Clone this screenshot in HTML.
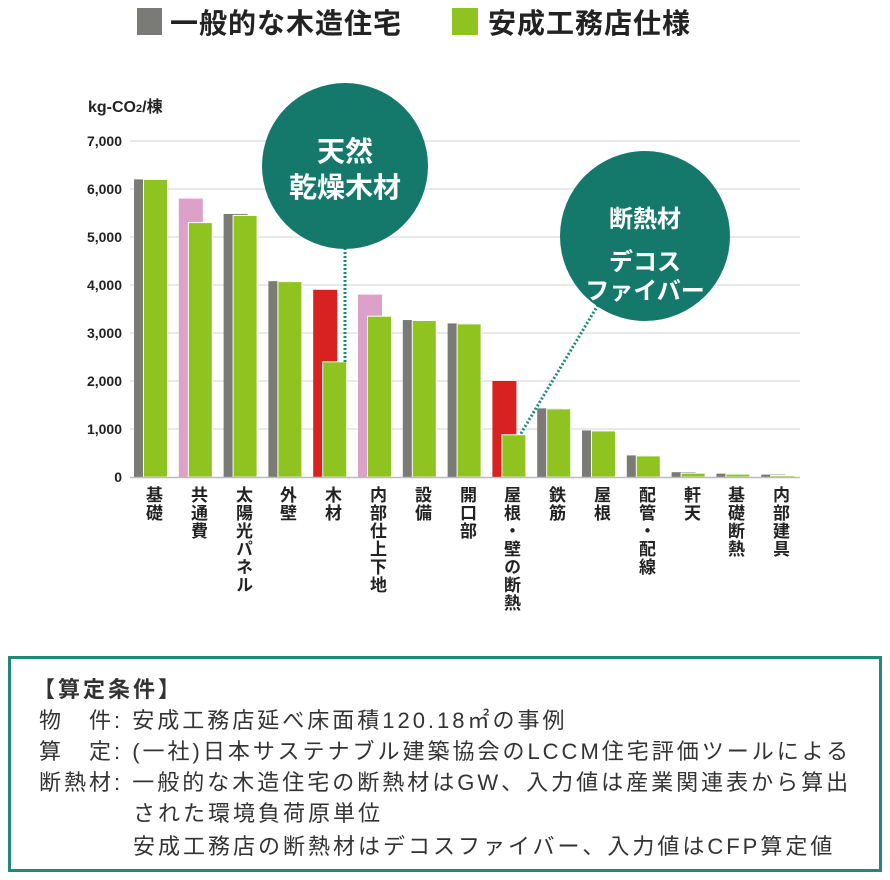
<!DOCTYPE html>
<html><head><meta charset="utf-8"><style>
body{margin:0;width:890px;height:880px;background:#fff;font-family:"Liberation Sans","Noto Sans CJK JP",sans-serif;position:relative;overflow:hidden;color:#222}
.a{position:absolute}
.lab{position:absolute;top:486px;writing-mode:vertical-rl;font-weight:bold;font-size:17px;letter-spacing:1px;color:#222;width:22px;line-height:22px}
.box{position:absolute;left:8px;top:656px;width:868px;height:210px;border:3px solid #1f8a78;}
.box div{position:absolute;font-size:22px;letter-spacing:3px;color:#333;white-space:nowrap}
</style></head><body>
<div class="a" style="left:137px;top:8px;width:25px;height:27px;background:#7a7a76"></div>
<div class="a" style="left:170px;top:2px;font-size:28px;font-weight:bold;letter-spacing:1px">一般的な木造住宅</div>
<div class="a" style="left:452px;top:8px;width:26px;height:27px;background:#8fc31f"></div>
<div class="a" style="left:488px;top:2px;font-size:28px;font-weight:bold;letter-spacing:1px">安成工務店仕様</div>
<div class="a" style="left:88px;top:93px;font-size:16px;font-weight:bold">kg-CO<span style="font-size:11px">2</span>/棟</div>
<svg class="a" style="left:0;top:0" width="890" height="650">
<g stroke="#e2e2e2" stroke-width="1.5">
<line x1="130" x2="800" y1="141" y2="141"/><line x1="130" x2="800" y1="189" y2="189"/><line x1="130" x2="800" y1="237" y2="237"/><line x1="130" x2="800" y1="285" y2="285"/><line x1="130" x2="800" y1="333" y2="333"/><line x1="130" x2="800" y1="381" y2="381"/><line x1="130" x2="800" y1="429" y2="429"/>
</g>
<g font-size="14" font-weight="bold" text-anchor="end" fill="#222" font-family="Liberation Sans,sans-serif">
<text x="122" y="146">7,000</text><text x="122" y="194">6,000</text><text x="122" y="242">5,000</text><text x="122" y="290">4,000</text><text x="122" y="338">3,000</text><text x="122" y="386">2,000</text><text x="122" y="434">1,000</text><text x="122" y="482">0</text>
</g>
<g id="bars" stroke="#fff" stroke-width="1"></g>
<line x1="130" x2="800" y1="477.5" y2="477.5" stroke="#bbb" stroke-width="1.5"/>
<line x1="345" y1="248" x2="345" y2="362" stroke="#1f8a78" stroke-width="3" stroke-dasharray="2,2"/>
<line x1="598" y1="305" x2="520" y2="435" stroke="#1f8a78" stroke-width="3" stroke-dasharray="2,2"/>
<circle cx="345" cy="166" r="83" fill="#14796a"/>
<circle cx="645" cy="236" r="85" fill="#14796a"/>
<g fill="#fff" font-weight="bold" text-anchor="middle" font-family="Liberation Sans,Noto Sans CJK JP,sans-serif">
<text x="345" y="161" font-size="28">天然</text><text x="345" y="197" font-size="28">乾燥木材</text>
<text x="645" y="227" font-size="24">断熱材</text><text x="645" y="270" font-size="24">デコス</text><text x="645" y="299" font-size="24">ファイバー</text>
</g>
</svg>
<script>
var d=[[6200,6200,'#7a7a76'],[5800,5300,'#dda0c8'],[5480,5450,'#7a7a76'],[4080,4070,'#7a7a76'],[3900,2400,'#d7221f'],[3800,3350,'#dda0c8'],[3270,3260,'#7a7a76'],[3200,3190,'#7a7a76'],[2000,880,'#d7221f'],[1430,1420,'#7a7a76'],[970,960,'#7a7a76'],[450,440,'#7a7a76'],[100,80,'#7a7a76'],[70,60,'#7a7a76'],[50,30,'#7a7a76']];
var s='';d.forEach(function(v,i){var x=134+44.8*i;var h1=v[0]*0.048,h2=v[1]*0.048;
s+='<rect x="'+x+'" y="'+(477-h1)+'" width="24" height="'+h1+'" fill="'+v[2]+'" stroke="none"/>';
s+='<rect x="'+(x+9.5)+'" y="'+(477-h2)+'" width="24" height="'+h2+'" fill="#8fc31f"/>';});
document.getElementById('bars').innerHTML=s;
</script>
<div class="lab" style="left:141px">基礎</div>
<div class="lab" style="left:186px">共通費</div>
<div class="lab" style="left:231px">太陽光パネル</div>
<div class="lab" style="left:275px">外壁</div>
<div class="lab" style="left:320px">木材</div>
<div class="lab" style="left:365px">内部仕上下地</div>
<div class="lab" style="left:410px">設備</div>
<div class="lab" style="left:455px">開口部</div>
<div class="lab" style="left:499px">屋根・壁の断熱</div>
<div class="lab" style="left:544px">鉄筋</div>
<div class="lab" style="left:589px">屋根</div>
<div class="lab" style="left:634px">配管・配線</div>
<div class="lab" style="left:679px">軒天</div>
<div class="lab" style="left:723px">基礎断熱</div>
<div class="lab" style="left:768px">内部建具</div>
<div class="box">
<div style="left:22px;top:13px;font-weight:bold">【算定条件】</div>
<div style="left:28px;top:44px">物　件: 安成工務店延べ床面積120.18㎡の事例</div>
<div style="left:28px;top:75px">算　定: (一社)日本サステナブル建築協会のLCCM住宅評価ツールによる</div>
<div style="left:28px;top:106px">断熱材: 一般的な木造住宅の断熱材はGW、入力値は産業関連表から算出</div>
<div style="left:122px;top:137px">された環境負荷原単位</div>
<div style="left:122px;top:170px">安成工務店の断熱材はデコスファイバー、入力値はCFP算定値</div>
</div>
</body></html>
